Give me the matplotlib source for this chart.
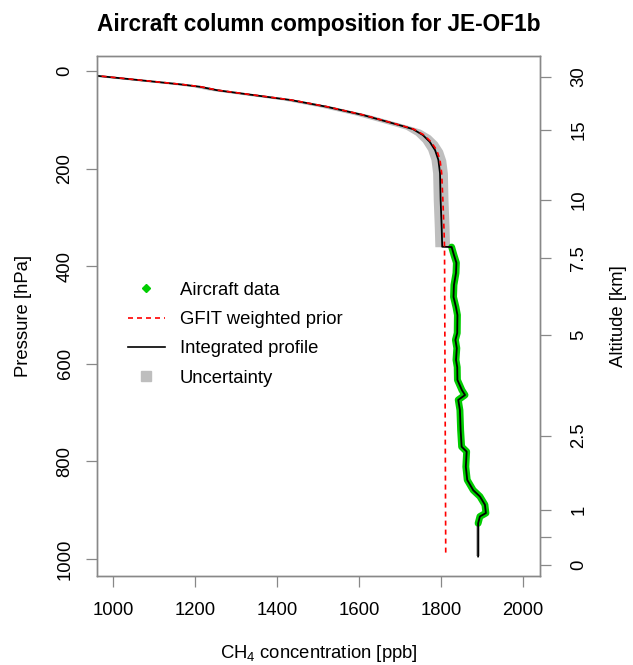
import matplotlib
matplotlib.use("Agg")
import matplotlib.pyplot as plt
from matplotlib.lines import Line2D
import numpy as np

plt.rcParams['font.family'] = ['Liberation Sans', 'DejaVu Sans']
plt.rcParams['mathtext.fontset'] = 'custom'
plt.rcParams['mathtext.rm'] = 'Liberation Sans'

###############################################################################
# values
###############################################################################
# upper part (scaled prior, above the aircraft ceiling)
upper_p = [2, 9.6, 27, 32, 39, 49, 59, 73, 90, 111, 119, 131, 145, 162, 182, 209, 264, 319, 360]
integ_upper = [860, 960, 1163, 1211, 1252, 1341, 1431, 1520, 1609, 1699, 1731, 1755, 1772,
               1785, 1793, 1797, 1798.5, 1801, 1802.4]
prior_upper = [862, 962, 1165, 1213, 1254, 1343, 1433, 1522, 1611, 1701, 1733, 1758, 1775,
               1789, 1797, 1801, 1804, 1806.5, 1808]

# GFIT prior below the aircraft ceiling
prior_lower_p = [995]
prior_lower = [1811]

# aircraft measurements
air_p = [360.7, 377, 393, 414, 438.5, 463, 484, 500, 537, 551, 568, 592, 607, 633, 654, 664,
         674, 695, 736, 770, 780, 811, 838, 859, 872, 889, 906, 913, 927]
air_ch4 = [1825.4, 1831, 1837, 1836, 1831, 1830, 1836, 1839.5, 1839, 1834.6, 1838, 1836, 1839,
           1839.5, 1850.5, 1858, 1841.5, 1845.6, 1847.3, 1849.8, 1862, 1860, 1863.4, 1878,
           1894.4, 1906.6, 1909, 1894.4, 1890]

# surface extrapolation below the lowest aircraft point
bottom_p = [927, 995]
bottom_ch4 = [1890, 1890]

# uncertainties [ppb]
unc_upper = 18.0
unc_bottom = 5.0

# altitude axis
alt_p = [1013, 955, 899, 747, 540, 383, 264, 120, 12]
alt_labels = ["0", "", "1", "2.5", "5", "7.5", "10", "15", "30"]

p_ticks = [0, 200, 400, 600, 800, 1000]
x_ticks = [1000, 1200, 1400, 1600, 1800, 2000]

###############################################################################
integ_p = np.array(upper_p + air_p + bottom_p[1:])
integ_ch4 = np.array(integ_upper + air_ch4 + bottom_ch4[1:])
prior_p = np.array(upper_p + prior_lower_p)
prior_ch4 = np.array(prior_upper + prior_lower)

axcol = '#888888'
gray = '#BEBEBE'
fs = 13.3

fig = plt.figure(figsize=(6.33, 6.65), dpi=100)
ax = fig.add_axes([97/633, 1-576/665, 443/633, 520/665])

# uncertainty
iu = np.array(integ_upper)
ax.fill_betweenx(upper_p, iu - unc_upper, iu + unc_upper, color=gray, lw=0)
bc = np.array(bottom_ch4)
ax.fill_betweenx(bottom_p, bc - unc_bottom, bc + unc_bottom, color=gray, lw=0)

# aircraft data
ax.plot(air_ch4, air_p, color='#00CD00', lw=5, solid_joinstyle='round', solid_capstyle='round')
# integrated profile
ax.plot(integ_ch4, integ_p, color='black', lw=1.3)
# prior
ax.plot(prior_ch4, prior_p, color='red', lw=1.2, dashes=(3, 2.4))

ax.set_xlim(960, 2041)
ax.set_ylim(1035, -31)
ax.set_xticks(x_ticks)
ax.set_yticks(p_ticks)
ax.set_yticklabels([str(t) for t in p_ticks], rotation=90, va='center')
ax.tick_params(axis='both', direction='out', length=7.9, width=0.9, color=axcol,
               labelsize=fs)
ax.tick_params(axis='x', pad=11)
ax.tick_params(axis='y', pad=9)
for s in ax.spines.values():
    s.set_color(axcol)
    s.set_linewidth(1.0)

ax.set_xlabel("CH$_{\\mathrm{4}}$ concentration [ppb]", fontsize=fs, labelpad=17)
ax.set_ylabel("Pressure [hPa]", fontsize=fs, labelpad=18)
ax.set_title("Aircraft column composition for JE-OF1b", fontsize=16.3,
             fontweight='bold', pad=18)

ax2 = ax.twinx()
ax2.set_ylim(ax.get_ylim())
ax2.set_yticks(alt_p)
ax2.set_yticklabels(alt_labels, rotation=90, va='center')
ax2.tick_params(axis='y', direction='out', length=7.9, width=0.9, color=axcol,
                labelsize=fs, pad=14)
for s in ax2.spines.values():
    s.set_color(axcol)
    s.set_linewidth(1.0)
ax2.set_ylabel("Altitude [km]", fontsize=fs, labelpad=16)

handles = [
    Line2D([], [], ls='none', marker='D', ms=4.5, color='#00CD00'),
    Line2D([], [], color='red', lw=1.2, dashes=(3, 2.4)),
    Line2D([], [], color='black', lw=1.2),
    Line2D([], [], ls='none', marker='s', ms=6.5, color=gray),
]
labels = ["Aircraft data", "GFIT weighted prior", "Integrated profile", "Uncertainty"]
ax.legend(handles, labels, loc='upper left', bbox_to_anchor=(0.07, 0.566),
          frameon=False, fontsize=fs, handlelength=2.0, handletextpad=0.8,
          labelspacing=0.67, borderpad=0, borderaxespad=0)

fig.savefig("out.png", dpi=100)
